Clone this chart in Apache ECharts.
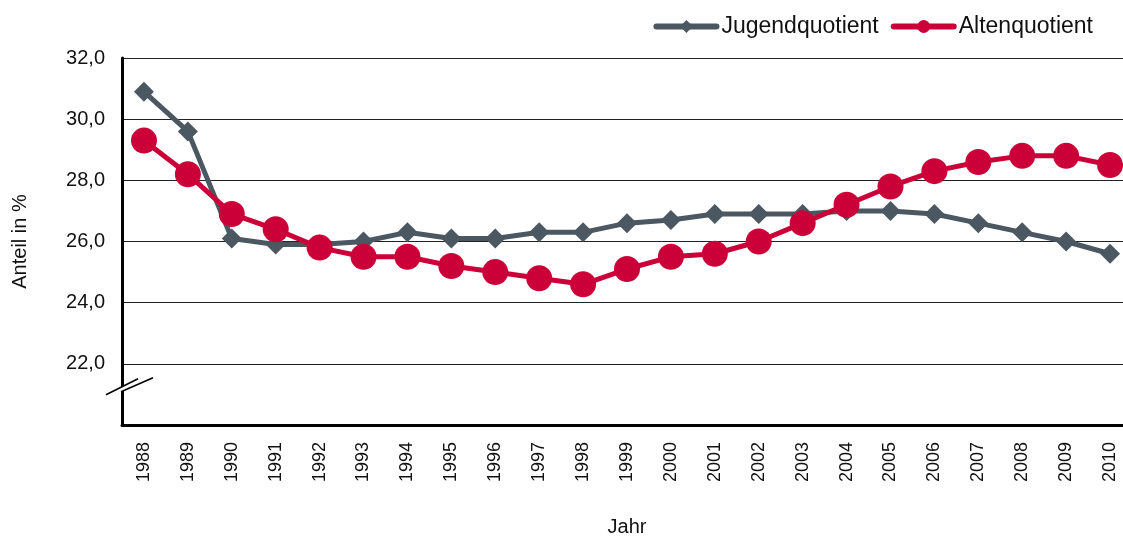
<!DOCTYPE html>
<html>
<head>
<meta charset="utf-8">
<script src="https://cdn.jsdelivr.net/npm/echarts@6.0.0/dist/echarts.min.js"></script>
<style>
  html, body { margin: 0; padding: 0; background: #fff; }
  #chart { width: 1123px; height: 536px; }
</style>
</head>
<body>
<div id="chart"></div>
<script>
// Daten
const years = ['1988','1989','1990','1991','1992','1993','1994','1995','1996','1997','1998',
  '1999','2000','2001','2002','2003','2004','2005','2006','2007','2008','2009','2010']
const jugendquotient = [30.9, 29.6, 26.1, 25.9, 25.9, 26.0, 26.3, 26.1, 26.1, 26.3, 26.3,
  26.6, 26.7, 26.9, 26.9, 26.9, 27.0, 27.0, 26.9, 26.6, 26.3, 26.0, 25.6]
const altenquotient = [29.3, 28.2, 26.9, 26.4, 25.8, 25.5, 25.5, 25.2, 25.0, 24.8, 24.6,
  25.1, 25.5, 25.6, 26.0, 26.6, 27.2, 27.8, 28.3, 28.6, 28.8, 28.8, 28.5]

const font = '"Liberation Sans", Arial, sans-serif'
const grayColor = '#4b5761'
const redColor = '#cc0038'

const chart = echarts.init(document.getElementById('chart'))

const option = {
  backgroundColor: '#fff',
  animation: false,
  textStyle: { fontFamily: font },
  grid: {
    left: 122,
    right: -9,
    top: 58,
    bottom: 111,
    containLabel: false,
    outerBoundsMode: 'none'
  },
  legend: {
    right: 25,
    top: 10,
    itemWidth: 60,
    itemHeight: 16,
    itemGap: 12,
    textStyle: { fontFamily: font, fontSize: 23, color: '#111' },
    lineStyle: { width: 6, cap: 'round' },
    data: ['Jugendquotient', 'Altenquotient']
  },
  xAxis: {
    type: 'category',
    data: years,
    boundaryGap: true,
    name: 'Jahr',
    nameLocation: 'middle',
    nameGap: 92,
    nameTextStyle: { fontFamily: font, fontSize: 20, color: '#111' },
    axisLine: { lineStyle: { color: '#000', width: 3 } },
    axisTick: { show: false },
    axisLabel: {
      rotate: 90,
      margin: 17,
      fontFamily: font,
      fontSize: 18,
      color: '#111',
      interval: 0
    },
    splitLine: { show: false }
  },
  yAxis: {
    type: 'value',
    min: 20,
    max: 32,
    interval: 2,
    name: 'Anteil in %',
    nameLocation: 'middle',
    nameGap: 92,
    nameTextStyle: { fontFamily: font, fontSize: 20, color: '#111' },
    axisLine: { show: true, lineStyle: { color: '#000', width: 3 } },
    axisTick: { show: false },
    axisLabel: {
      margin: 17,
      fontFamily: font,
      fontSize: 20,
      color: '#111',
      formatter: v => v === 20 ? '' : v.toFixed(1).replace('.', ',')
    },
    splitLine: { lineStyle: { color: '#222', width: 1 } }
  },
  series: [
    {
      name: 'Jugendquotient',
      type: 'line',
      data: jugendquotient,
      symbol: 'diamond',
      symbolSize: 20,
      lineStyle: { color: grayColor, width: 5 },
      itemStyle: { color: grayColor },
      z: 2
    },
    {
      name: 'Altenquotient',
      type: 'line',
      data: altenquotient,
      symbol: 'circle',
      symbolSize: 26,
      lineStyle: { color: redColor, width: 5 },
      itemStyle: { color: redColor },
      z: 3
    }
  ]
}

chart.setOption(option)

// Achsenbruch-Markierung auf der y-Achse
const p = chart.convertToPixel({ gridIndex: 0 }, ['1988', 21.25])
const ax = 122
const ay = p[1]
chart.setOption({
  graphic: [
    {
      type: 'polygon',
      shape: { points: [[ax - 16, ay + 8], [ax + 16, ay - 8], [ax + 31, ay - 9], [ax - 1, ay + 5]] },
      style: { fill: '#fff' },
      z: 100
    },
    {
      type: 'line',
      shape: { x1: ax - 16, y1: ay + 8, x2: ax + 16, y2: ay - 8 },
      style: { stroke: '#000', lineWidth: 1.5 },
      z: 101
    },
    {
      type: 'line',
      shape: { x1: ax - 1, y1: ay + 5, x2: ax + 31, y2: ay - 9 },
      style: { stroke: '#000', lineWidth: 1.5 },
      z: 101
    }
  ]
})
</script>
</body>
</html>
